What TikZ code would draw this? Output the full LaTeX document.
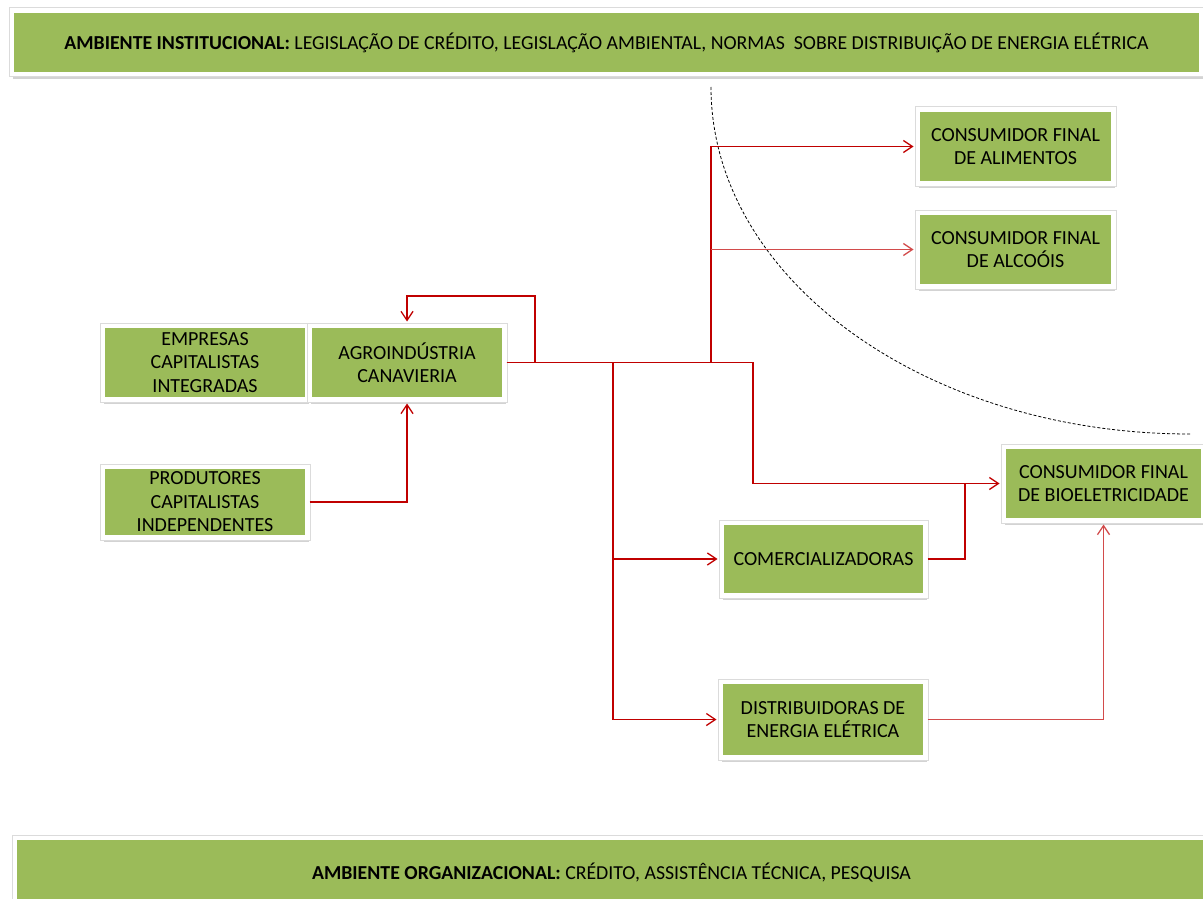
\documentclass[tikz,border=0pt]{standalone}
\usepackage{fontspec}
\setmainfont{Carlito}
\usepackage{xcolor}
\usepackage{tikz}
\usetikzlibrary{calc,arrows.meta,positioning,shadows}
\definecolor{boxg}{HTML}{9BBB59}
\definecolor{linec}{HTML}{C00000}
\definecolor{linel}{HTML}{D24B4B}
\tikzset{
  ar/.style={-{Straight Barb[length=9pt,width=12pt]},line width=1.3pt,linec,shorten >=2pt},
  ln/.style={line width=1.3pt,linec},
  box/.style={draw=white,line width=4.5pt,fill=boxg,align=center,inner sep=2pt,
    font=\fontsize{20}{23.5}\selectfont,
    drop shadow={shadow xshift=1.5pt,shadow yshift=-5pt,opacity=0.35},
    preaction={draw=black!14,line width=6.5pt},
    minimum width=204.5pt,minimum height=73.5pt},
  banner/.style={box,font=\fontsize{19.8}{23.5}\selectfont,minimum height=63.5pt}
}

\begin{document}
\begin{tikzpicture}[x=1pt,y=-1pt]
\useasboundingbox (0,0) rectangle (1203,899);
% ambientes
\node[banner,minimum width=1189.5pt] (inst) at (606.5,42.5) {\textbf{AMBIENTE INSTITUCIONAL:} LEGISLAÇÃO DE CRÉDITO, LEGISLAÇÃO AMBIENTAL, NORMAS~ SOBRE DISTRIBUIÇÃO DE ENERGIA ELÉTRICA};
\node[banner,minimum width=1193.5pt,minimum height=69.5pt] (org) at (611.5,872.5) {\textbf{AMBIENTE ORGANIZACIONAL:} CRÉDITO, ASSISTÊNCIA TÉCNICA, PESQUISA};
% agentes
\node[box] (empr) at (205,362.5) {EMPRESAS\\CAPITALISTAS\\INTEGRADAS};
\node[box,minimum width=194.5pt] (agro) at (407,362.5) {AGROINDÚSTRIA\\CANAVIERIA};
\node[box,minimum height=70.5pt] (prod) at (205,502) {PRODUTORES\\CAPITALISTAS\\INDEPENDENTES};
\node[box,minimum width=195.5pt] (cfalim) at (1015.5,146.5) {CONSUMIDOR FINAL\\DE ALIMENTOS};
\node[box,minimum width=195.5pt] (cfalc) at (1015.5,249.5) {CONSUMIDOR FINAL\\DE ALCOÓIS};
\node[box,minimum width=199.5pt] (cfbio) at (1103.5,483.5) {CONSUMIDOR FINAL\\DE BIOELETRICIDADE};
\node[box,minimum width=203.5pt,minimum height=72.5pt] (comerc) at (823.5,559) {COMERCIALIZADORAS};
\node[box,minimum height=75.5pt] (distr) at (823,719.5) {DISTRIBUIDORAS DE\\ENERGIA ELÉTRICA};
% fronteira
\draw[dashed,line width=0.8pt,dash pattern=on 3pt off 2pt] (711,87) arc[start angle=180,end angle=270,x radius=479pt,y radius=347pt];
% fluxos
\coordinate (loop) at (535,296);
\coordinate (jA) at (711,362.5);
\coordinate (jB) at (613,362.5);
\coordinate (jD) at (753,362.5);
\coordinate (jC) at (965,483.5);
\draw[ar] (agro.east) -| (loop) -| (agro.north);
\draw[ar] (prod.east) -| (agro.south);
\draw[ar] (agro.east) -- (jD) |- (cfbio.west);
\draw[ar] (jA) |- (cfalim.west);
\draw[ar,linel] (jA |- cfalc.west) -- (cfalc.west);
\draw[ar] (jB) |- (comerc.west);
\draw[ar] (jB) |- (distr.west);
\draw[ln] (comerc.east) -| (jC);
\draw[ar,linel] (distr.east) -| (cfbio.south);
\end{tikzpicture}
\end{document}
